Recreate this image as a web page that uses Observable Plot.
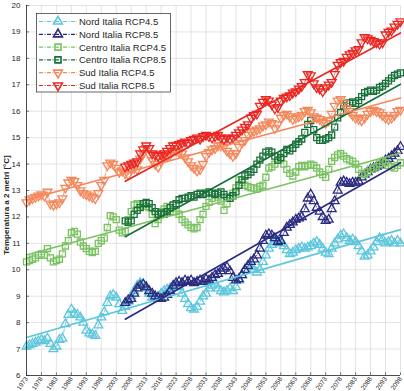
<!DOCTYPE html>
<html><head><meta charset="utf-8">
<script src="https://cdn.jsdelivr.net/npm/d3@7"></script>
<script src="https://cdn.jsdelivr.net/npm/@observablehq/plot@0.6"></script>
<style>body{margin:0;background:#fff;} #chart{width:404px;height:391px;}</style>
</head><body><div id="chart"></div>
<script>
const seriesNames = ["Nord Italia RCP4.5", "Nord Italia RCP8.5", "Centro Italia RCP4.5", "Centro Italia RCP8.5", "Sud Italia RCP4.5", "Sud Italia RCP8.5"];
const seriesStart = [1973, 2006, 1973, 2006, 1973, 2006];
const lastYear = 2098;

const nord45 = [
  7.1, 7.15, 7.2, 7.25, 7.3, 7.35, 7.3, 7.4, 7.2, 7.0,
  7.1, 7.35, 7.4, 7.95, 8.3, 8.5, 8.35, 8.3, 8.2, 8.0,
  7.7, 7.6, 7.55, 7.5, 7.9, 8.2, 8.4, 8.75, 9.0, 9.05,
  8.95, 8.7, 8.45, 8.6, 8.8, 9.0, 9.2, 9.4, 9.5, 9.45,
  9.3, 9.1, 8.95, 8.9, 8.95, 9.1, 9.2, 9.25, 9.3, 9.35,
  9.4, 9.35, 9.1, 8.9, 8.7, 8.55, 8.5, 8.6, 8.8, 9.0,
  9.1, 9.3, 9.4, 9.45, 9.3, 9.2, 9.15, 9.2, 9.3, 9.2,
  9.35, 9.6, 9.8, 10.0, 10.15, 10.1, 10.0, 9.9, 10.0, 10.3,
  10.55, 10.8, 10.95, 11.05, 11.1, 11.0, 10.9, 10.75, 10.6, 10.65,
  10.75, 10.8, 10.85, 10.8, 10.85, 10.9, 11.0, 11.05, 10.95, 10.8,
  10.65, 10.6, 10.8, 11.0, 11.15, 11.3, 11.35, 11.2, 11.1, 11.15,
  11.05, 10.9, 10.7, 10.5, 10.55, 10.7, 10.85, 11.05, 11.2, 11.15,
  11.0, 11.05, 11.1, 11.0, 11.1, 11.0
];
const nord85 = [
  8.75, 8.85, 8.9, 9.1, 9.3, 9.4, 9.45, 9.35, 9.2, 9.1,
  9.0, 8.95, 8.9, 8.95, 9.05, 9.2, 9.4, 9.5, 9.55, 9.5,
  9.6, 9.55, 9.6, 9.5, 9.55, 9.6, 9.55, 9.65, 9.6, 9.7,
  9.8, 9.85, 9.95, 10.05, 10.1, 9.95, 9.7, 9.6, 9.65, 9.8,
  10.0, 10.15, 10.3, 10.4, 10.55, 10.8, 11.1, 11.3, 11.35, 11.3,
  11.2, 11.05, 11.1, 11.4, 11.6, 11.7, 11.8, 11.9, 11.95, 12.0,
  12.3, 12.7, 12.85, 12.6, 12.35, 12.2, 12.0, 11.85, 11.9, 12.3,
  12.6, 13.0, 13.3, 13.35, 13.3, 13.25, 13.3, 13.3, 13.35, 13.5,
  13.6, 13.7, 13.8, 13.85, 13.9, 13.95, 14.05, 14.15, 14.2, 14.3,
  14.4, 14.5, 14.65
];
const centro45 = [
  10.3, 10.35, 10.4, 10.45, 10.55, 10.6, 10.55, 10.8, 10.45, 10.3,
  10.35, 10.4, 10.6, 10.9, 11.1, 11.4, 11.45, 11.35, 11.05, 10.9,
  10.8, 10.7, 10.65, 10.7, 11.0, 11.1, 11.2, 11.6, 12.05, 12.0,
  11.9, 11.5, 11.4, 11.45, 11.9, 12.2, 12.45, 12.5, 12.45, 12.4,
  12.4, 12.35, 12.1, 11.75, 11.9, 12.2, 12.3, 12.4, 12.35, 12.2,
  12.2, 12.1, 11.9, 11.8, 11.7, 11.6, 11.55, 11.6, 11.9, 12.1,
  12.4, 12.55, 12.7, 12.85, 12.75, 12.6, 12.25, 12.5, 12.7, 12.9,
  13.1, 13.4, 13.3, 13.2, 13.15, 13.1, 13.1, 13.05, 13.15, 13.2,
  13.5, 13.85, 13.9, 14.0, 14.15, 14.2, 14.0, 13.8, 13.65, 13.55,
  13.7, 13.9, 13.95, 13.9, 13.95, 14.0, 13.95, 13.85, 13.7, 13.6,
  13.5, 13.8, 14.1, 14.25, 14.35, 14.4, 14.3, 14.2, 14.15, 14.1,
  14.0, 13.8, 13.65, 13.6, 13.7, 13.8, 13.85, 13.9, 14.0, 14.1,
  14.05, 13.95, 13.9, 13.85, 13.95, 14.05
];
const centro85 = [
  11.85, 11.8, 11.85, 12.1, 12.25, 12.35, 12.5, 12.55, 12.5, 12.35,
  12.2, 12.1, 12.15, 12.1, 12.2, 12.35, 12.45, 12.5, 12.65, 12.7,
  12.7, 12.75, 12.8, 12.75, 12.85, 12.9, 12.85, 12.9, 12.95, 12.9,
  12.85, 12.9, 12.95, 12.85, 12.75, 12.7, 12.8, 12.95, 13.2, 13.4,
  13.55, 13.6, 13.7, 13.8, 14.0, 14.15, 14.3, 14.45, 14.5, 14.45,
  14.3, 14.15, 14.25, 14.4, 14.55, 14.5, 14.6, 14.75, 14.85, 14.95,
  15.2, 15.5, 15.65, 15.3, 15.0, 14.9, 14.9, 14.95, 15.0, 15.1,
  15.4, 15.75, 15.95, 16.2, 16.3, 16.3, 16.35, 16.3, 16.4, 16.55,
  16.7, 16.75, 16.8, 16.75, 16.8, 16.9, 16.95, 17.05, 17.15, 17.25,
  17.35, 17.4, 17.45
];
const sud45 = [
  12.55, 12.65, 12.7, 12.75, 12.8, 12.85, 12.8, 12.95, 12.5, 12.45,
  12.5, 12.55, 12.7, 13.1, 13.3, 13.4, 13.35, 13.2, 13.0, 12.9,
  12.85, 12.8, 12.75, 12.7, 12.9, 13.2, 13.4, 13.95, 14.05, 14.0,
  13.85, 13.7, 13.75, 13.65, 13.6, 13.8, 13.85, 13.8, 14.2, 14.4,
  14.6, 14.35, 14.15, 14.0, 13.9, 14.1, 14.3, 14.3, 14.35, 14.5,
  14.5, 14.45, 14.4, 14.25, 14.1, 13.95, 13.85, 13.75, 13.8, 14.0,
  14.3, 14.45, 14.55, 14.6, 14.7, 14.7, 14.65, 14.5, 14.4, 14.3,
  14.4, 14.65, 14.8, 14.9, 15.1, 15.2, 15.25, 15.3, 15.35, 15.45,
  15.5, 15.6, 15.55, 15.35, 15.5, 15.75, 15.85, 15.9, 15.8, 15.7,
  15.75, 15.8, 15.85, 16.0, 16.05, 15.95, 15.8, 15.75, 15.7, 15.6,
  15.55, 15.65, 15.9, 16.2, 16.4, 16.45, 16.3, 16.1, 16.0, 15.85,
  15.75, 15.7, 15.65, 15.75, 15.9, 16.0, 16.05, 16.0, 15.95, 15.85,
  15.75, 15.7, 15.75, 15.85, 16.0, 16.05
];
const sud85 = [
  13.9, 13.95, 14.0, 14.05, 14.1, 14.4, 14.55, 14.7, 14.6, 14.4,
  14.35, 14.3, 14.35, 14.4, 14.5, 14.6, 14.7, 14.7, 14.75, 14.8,
  14.85, 14.8, 14.9, 14.95, 15.0, 14.95, 15.05, 15.1, 15.05, 15.0,
  15.05, 15.1, 15.0, 14.95, 15.0, 14.95, 15.0, 15.1, 15.2, 15.3,
  15.4, 15.5, 15.75, 15.85, 15.9, 16.2, 16.35, 16.45, 16.4, 16.25,
  16.1, 16.15, 16.4, 16.5, 16.55, 16.6, 16.7, 16.75, 16.85, 16.95,
  17.1, 17.4, 17.35, 17.05, 16.9, 16.85, 16.75, 16.9, 17.0, 17.1,
  17.4, 17.75, 17.85, 17.9, 18.05, 18.15, 18.2, 18.3, 18.35, 18.6,
  18.8, 18.75, 18.7, 18.65, 18.6, 18.55, 18.6, 18.9, 19.0, 19.05,
  19.2, 19.3, 19.4
];
// linear trend lines: value at first year and at 2098
const trendStart = [7.44, 8.13, 10.56, 11.25, 12.65, 13.35];
const trendEnd = [11.52, 14.05, 14.42, 17.02, 16.5, 18.96];

const xTickYears = [1973, 1978, 1983, 1988, 1993, 1998, 2003, 2008, 2013, 2018, 2023, 2028, 2033,
  2038, 2043, 2048, 2053, 2058, 2063, 2068, 2073, 2078, 2083, 2088, 2093, 2098];
const yTickValues = [6, 7, 8, 9, 10, 11, 12, 13, 14, 15, 16, 17, 18, 19, 20];
const yLabel = "Temperatura a 2 metri [°C]";

// styles
const colors = ["#5cc6dc", "#2a2a80", "#7bc262", "#177038", "#f4875a", "#ea2620"];
const symbols = ["triangle", "triangle", "square", "square", "triangle", "triangle"];
const rotations = [0, 0, 0, 0, 180, 180];
const radii = [3.3, 3.3, 3.4, 3.4, 3.3, 3.3];

const seriesValues = [nord45, nord85, centro45, centro85, sud45, sud85];
const rows = seriesValues.map((vals, i) => vals.map((v, j) => ({series: seriesNames[i], year: seriesStart[i] + j, value: v})));
const trendRows = seriesNames.map((s, i) => [
  {series: s, year: seriesStart[i], value: trendStart[i]},
  {series: s, year: lastYear, value: trendEnd[i]}
]);

const axisColor = "#262626";
const fontFam = "'Liberation Sans', Arial, sans-serif";
const marks = [
  Plot.gridX(xTickYears, {stroke: "#dcdcdc", strokeOpacity: 1, strokeWidth: 0.8}),
  Plot.gridY(yTickValues, {stroke: "#dcdcdc", strokeOpacity: 1, strokeWidth: 0.8}),
  Plot.axisY(yTickValues, {tickSize: 0, tickPadding: 6, fontSize: 8, fill: axisColor, label: null}),
  Plot.axisX(xTickYears, {tickSize: 0, tickPadding: 2, tickRotate: -55, fontSize: 6.5, fill: axisColor,
    tickFormat: d => String(d), label: null}),
  Plot.ruleX(xTickYears, {x: d => d, y1: 6, y2: 6.1, stroke: axisColor, strokeWidth: 0.6}),
  Plot.ruleY(yTickValues, {y: d => d, x1: 1973, x2: 1974, stroke: axisColor, strokeWidth: 0.6}),
];
rows.forEach((data, i) => {
  marks.push(Plot.line(data, {x: "year", y: "value", stroke: colors[i], strokeWidth: 0.8, strokeDasharray: "4,1.5,1,1.5"}));
  marks.push(Plot.dot(data, {x: "year", y: "value", symbol: symbols[i], r: radii[i], rotate: rotations[i],
    stroke: colors[i], fill: "none", strokeWidth: 1.3}));
});
trendRows.forEach((data, i) => {
  marks.push(Plot.line(data, {x: "year", y: "value", stroke: colors[i], strokeWidth: 1.6}));
});
marks.push(Plot.ruleX([1973], {stroke: axisColor, strokeWidth: 0.8}));
marks.push(Plot.ruleY([6], {stroke: axisColor, strokeWidth: 0.8}));

const chart = Plot.plot({
  width: 404, height: 391,
  marginLeft: 26, marginRight: 4, marginTop: 5, marginBottom: 16,
  x: {domain: [1973, lastYear]},
  y: {domain: [6, 20]},
  style: {fontFamily: fontFam, background: "#fff", color: axisColor},
  marks
});
document.getElementById("chart").appendChild(chart);

// legend and y label
const svg = d3.select(chart);
svg.append("text")
  .attr("transform", "translate(7,205) rotate(-90)")
  .attr("text-anchor", "middle").attr("dominant-baseline", "middle")
  .attr("font-size", 8).attr("font-weight", "bold").attr("fill", axisColor)
  .attr("font-family", fontFam)
  .text(yLabel);

const lg = svg.append("g").attr("text-anchor", "start");
lg.append("rect").attr("x", 36.5).attr("y", 13.5).attr("width", 134).attr("height", 78.5)
  .attr("fill", "#fff").attr("stroke", axisColor).attr("stroke-width", 0.7);
const symType = {triangle: d3.symbolTriangle, square: d3.symbolSquare};
seriesNames.forEach((name, i) => {
  const yy = 21.5 + i * 12.8;
  lg.append("line").attr("x1", 39).attr("x2", 77).attr("y1", yy).attr("y2", yy)
    .attr("stroke", colors[i]).attr("stroke-width", 1.2).attr("stroke-dasharray", "4,1.5,1,1.5");
  lg.append("path")
    .attr("d", d3.symbol(symType[symbols[i]], radii[i] * radii[i] * Math.PI)())
    .attr("transform", `translate(58,${yy}) rotate(${rotations[i]})`)
    .attr("fill", "none").attr("stroke", colors[i]).attr("stroke-width", 1.6);
  lg.append("text").attr("x", 79).attr("y", yy).attr("dominant-baseline", "central")
    .attr("text-anchor", "start")
    .attr("font-size", 9.5).attr("fill", axisColor)
    .attr("font-family", fontFam)
    .text(name);
});
</script>
</body></html>
